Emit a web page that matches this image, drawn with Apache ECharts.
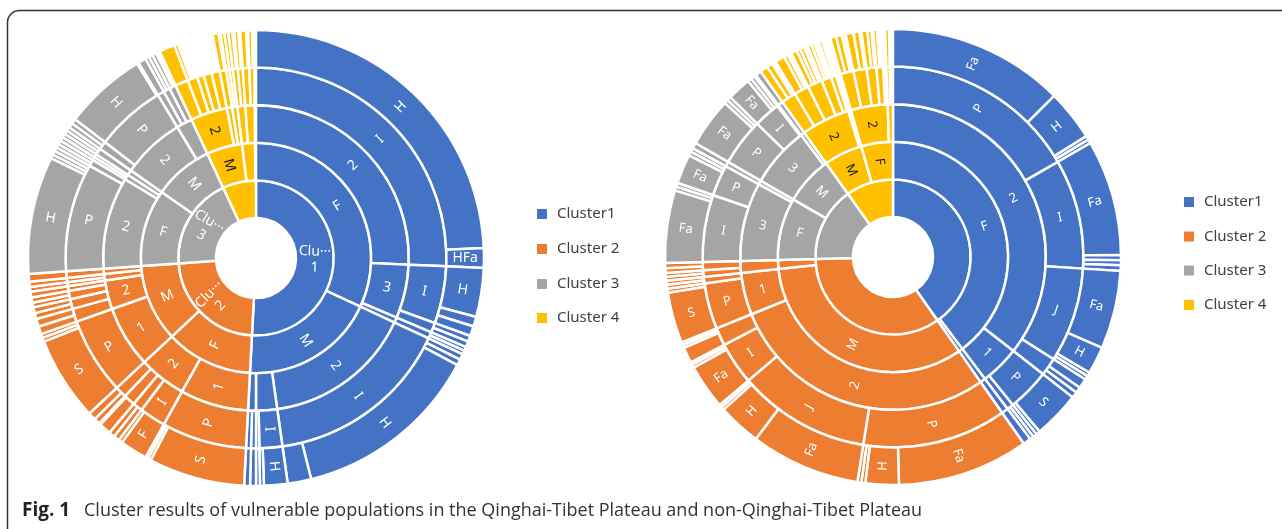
<!DOCTYPE html>
<html>
<head>
<meta charset="utf-8">
<script src="https://cdn.jsdelivr.net/npm/echarts@6/dist/echarts.min.js"></script>
<style>
html,body{margin:0;padding:0;background:#fff;}
#c{width:1282px;height:529px;}
</style>
</head>
<body>
<div id="c"></div>
<script>
// ---- data (values in share units; a parent larger than its children leaves an empty gap) ----
// segment names starting with "_" are drawn without a label
const clusterNames = ['Cluster 1', 'Cluster 2', 'Cluster 3', 'Cluster 4'];
const clusterColors = ['#4472C4', '#ED7D31', '#A5A5A5', '#FFC000'];
const legendLabels = ['Cluster1', 'Cluster 2', 'Cluster 3', 'Cluster 4'];

// Left chart (Qinghai-Tibet Plateau)
const leftClusterValues = [183, 83, 69, 25];
const leftC1 = [
  ['F',115],['F/2',92.5],['F/2/I',92.5],['F/2/I/H',87.5],['F/2/I/HFa',5],
  ['F/3',20.5],['F/3/I',17.5],['F/3/I/H',12.5],['F/3/I/_1',2.5],['F/3/I/_2',2.5],
  ['F/3/_1',3],['F/3/_1/_1',1.5],['F/3/_1/_2',1.5],
  ['F/_1',2],['F/_1/_1',2],['F/_1/_1/_1',1],['F/_1/_1/_2',1],
  ['M',68],['M/2',57],['M/2/I',57],['M/2/I/_1',1.5],['M/2/I/_2',1.5],['M/2/I/H',48],['M/2/I/_3',6],
  ['M/_1',8],['M/_1/I',7],['M/_1/I/H',6],['M/_1/I/_1',1],['M/_1/_1',1],['M/_1/_1/_1',1],
  ['M/_2',3],['M/_2/_1',1.5],['M/_2/_1/_1',1.5],['M/_2/_2',1.5],['M/_2/_2/_1',1.5]
];
const leftC2 = [
  ['F',44],['F/1',26],['F/1/P',26],['F/1/P/S',24.5],['F/1/P/_1',0.8],['F/1/P/_2',0.7],
  ['F/2',18],['F/2/I',8],['F/2/I/F',7],['F/2/I/_1',1],
  ['F/2/_1',3],['F/2/_1/_1',1.5],['F/2/_1/_2',1.5],
  ['F/2/_2',3.5],['F/2/_2/_1',3],
  ['F/2/_3',3.5],['F/2/_3/_1',1.5],['F/2/_3/_2',2],
  ['M',39],['M/1',23.5],['M/1/P',23.5],['M/1/P/S',21.5],['M/1/P/_1',1],['M/1/P/_2',1],
  ['M/2',11],['M/2/_1',4],['M/2/_1/_1',2],['M/2/_1/_2',2],
  ['M/2/_2',3],['M/2/_2/_1',1.5],['M/2/_2/_2',1.5],
  ['M/2/_3',2.5],['M/2/_3/_1',1.2],['M/2/_3/_2',1.3],
  ['M/2/_4',1.5],['M/2/_4/_1',1.5],
  ['M/_1',2.5],['M/_1/_1',1.2],['M/_1/_1/_1',1.2],['M/_1/_2',1.3],['M/_1/_2/_1',1.3],
  ['M/_2',2],['M/_2/_1',2],['M/_2/_1/_1',2]
];
const leftC3 = [
  ['F',39],['F/2',35],['F/2/P',33],['F/2/P/H',30],['F/2/P/_1',1],['F/2/P/_2',1],['F/2/P/_3',1],
  ['F/2/_1',2],['F/2/_1/_1',1],['F/2/_1/_2',1],
  ['F/_1',2],['F/_1/_1',1],['F/_1/_1/_1',1],['F/_1/_2',1],['F/_1/_2/_1',1],
  ['F/_2',2],['F/_2/_1',2],['F/_2/_1/_1',1],['F/_2/_1/_2',1],
  ['M',30],['M/2',24],['M/2/_1',2.5],['M/2/_1/_1',1.2],['M/2/_1/_2',1.3],
  ['M/2/P',21.5],['M/2/P/H',21],
  ['M/_1',6],['M/_1/_1',2],['M/_1/_1/_1',2],['M/_1/_2',2],['M/_1/_2/_1',1],['M/_1/_2/_2',1],
  ['M/_1/_3',2],['M/_1/_3/_1',1]
];
const leftC4 = [
  ['M',18],['M/2',14],
  ['M/2/_1',4],['M/2/_1/_1',4],
  ['M/2/_2',3],['M/2/_2/_1',1],['M/2/_2/_2',0.5],['M/2/_2/_3',0.5],
  ['M/2/_3',2],
  ['M/2/_4',2.5],['M/2/_4/_1',0.5],
  ['M/2/_5',2.5],
  ['M/_1',2],['M/_1/_1',2],['M/_1/_1/_1',1.5],
  ['M/_2',2],['M/_2/_1',1],['M/_2/_1/_1',1],['M/_2/_2',1],['M/_2/_2/_1',1],
  ['_F',6.5],['_F/_1',3],['_F/_1/_1',1.5],['_F/_1/_1/_1',1],['_F/_1/_2',1.5],['_F/_1/_2/_1',1],
  ['_F/_2',3.5],['_F/_2/_1',2],['_F/_2/_1/_1',1.5],['_F/_2/_2',1.5],['_F/_2/_2/_1',1]
];

// Right chart (non-Qinghai-Tibet Plateau)
const rightClusterValues = [145, 123.5, 56, 35.5];
const rightC1 = [
  ['F',143],['F/2',128],
  ['F/2/P',60],['F/2/P/Fa',45],['F/2/P/H',13],['F/2/P/_1',1],['F/2/P/_2',1],
  ['F/2/I',33.5],['F/2/I/Fa',29.5],['F/2/I/_1',1.3],['F/2/I/_2',1.3],['F/2/I/_3',1.4],
  ['F/2/J',29],['F/2/J/Fa',20],['F/2/J/H',7],['F/2/J/_1',1],['F/2/J/_2',1],
  ['F/2/_1',5.5],['F/2/_1/_1',2.5],['F/2/_1/_2',1.5],['F/2/_1/_3',1.5],
  ['F/1',15],['F/1/P',13],['F/1/P/S',12],['F/1/P/_1',1],
  ['F/1/_1',2],['F/1/_1/_1',1],['F/1/_1/_2',1],
  ['_M',2],['_M/_1',2],['_M/_1/_1',2],['_M/_1/_1/_1',2]
];
const rightC2 = [
  ['M',119],['M/2',103],
  ['M/2/P',44],['M/2/P/Fa',33.5],['M/2/P/H',8.5],['M/2/P/_1',1],['M/2/P/_2',1],
  ['M/2/J',40.5],['M/2/J/Fa',28],['M/2/J/H',11],['M/2/J/_1',0.8],['M/2/J/_2',0.7],
  ['M/2/I',13],['M/2/I/Fa',11.5],['M/2/I/_1',0.8],['M/2/I/_2',0.7],
  ['M/2/_1',5.5],['M/2/_1/_1',4],['M/2/_1/_2',0.8],['M/2/_1/_3',0.7],
  ['M/1',16],['M/1/P',14],['M/1/P/S',13],['M/1/P/_1',1],
  ['M/1/_1',2],['M/1/_1/_1',1],['M/1/_1/_2',1],
  ['_F',4.5],['_F/_1',4.5],['_F/_1/_1',2],['_F/_1/_1/_1',1],['_F/_1/_1/_2',1],
  ['_F/_1/_2',2.5],['_F/_1/_2/_1',1.2],['_F/_1/_2/_2',1.3]
];
const rightC3 = [
  ['F',31.5],['F/3',30],
  ['F/3/I',20.5],['F/3/I/Fa',18.5],['F/3/I/_1',1],['F/3/I/_2',1],
  ['F/3/P',9.5],['F/3/P/Fa',7.5],['F/3/P/_1',1],['F/3/P/_2',1],
  ['F/_1',1.5],['F/_1/_1',1.5],['F/_1/_1/_1',1.5],
  ['M',24.5],['M/3',23],
  ['M/3/P',14.5],['M/3/P/Fa',12.5],['M/3/P/_1',1],['M/3/P/_2',1],
  ['M/3/I',8],['M/3/I/Fa',6],['M/3/I/_1',1],['M/3/I/_2',1],
  ['M/_1',1.5],['M/_1/_1',1.5],['M/_1/_1/_1',1.5]
];
const rightC4 = [
  ['M',19.5],['M/2',18.5],
  ['M/2/_1',4.5],['M/2/_1/_1',2],['M/2/_1/_2',1.5],
  ['M/2/_2',4.5],['M/2/_2/_1',2.5],['M/2/_2/_2',1],
  ['M/2/_3',4.5],['M/2/_3/_1',1.5],['M/2/_3/_2',1],['M/2/_3/_3',1],
  ['M/2/_4',3],['M/2/_4/_1',1],['M/2/_4/_2',0.8],
  ['M/2/_5',1.5],['M/2/_5/_1',0.8],
  ['M/_1',1],
  ['F',16],['F/2',14],
  ['F/2/_1',4],['F/2/_1/_1',1.5],['F/2/_1/_2',1.5],['F/2/_1/_3',0.7],
  ['F/2/_2',4],['F/2/_2/_1',2],['F/2/_2/_2',1.5],
  ['F/2/_3',3],['F/2/_3/_1',1.5],['F/2/_3/_2',1],
  ['F/2/_4',2],['F/2/_4/_1',1],['F/2/_4/_2',0.6],
  ['F/_1',2],['F/_1/_1',1],['F/_1/_1/_1',1]
];

// ---- build trees ----
function buildTree(values, lists, hideClusterLabel) {
  return clusterNames.map(function (cn, i) {
    const labelColor = i === 3 ? '#1a1a1a' : '#ffffff';
    const col = clusterColors[i];
    const root = { key: cn, name: cn, value: values[i], itemStyle: { color: col },
                   label: { color: labelColor, show: !hideClusterLabel[i] }, children: [] };
    lists[i].forEach(function (row) {
      const segs = row[0].split('/');
      let node = root;
      segs.forEach(function (s, k) {
        let child = node.children.find(function (c) { return c.key === s; });
        if (!child) {
          const blank = s.charAt(0) === '_';
          child = { key: s, name: blank ? '' : s, itemStyle: { color: col },
                    label: { color: labelColor, show: !blank }, children: [] };
          node.children.push(child);
        }
        if (k === segs.length - 1) child.value = row[1];
        node = child;
      });
    });
    (function clean(n) {
      delete n.key;
      if (!n.children.length) delete n.children; else n.children.forEach(clean);
    })(root);
    return root;
  });
}

const leftData = buildTree(leftClusterValues, [leftC1, leftC2, leftC3, leftC4], [false, false, false, true]);
const rightData = buildTree(rightClusterValues, [rightC1, rightC2, rightC3, rightC4], [true, true, true, true]);

function fmt(p) {
  const n = p.name || '';
  if (n.indexOf('Cluster') === 0) return 'Clu\u00B7\u00B7\u00B7\n' + n.replace(/\D/g, '');
  return n;
}

const FONT = '"Noto Sans", "Open Sans", sans-serif';
function series(center, data, fs) {
  return {
    type: 'sunburst',
    center: center,
    radius: [40, 228],
    sort: null,
    nodeClick: false,
    startAngle: 90,
    clockwise: true,
    itemStyle: { borderColor: '#ffffff', borderWidth: 2.5 },
    label: { rotate: 'radial', fontSize: fs, fontFamily: FONT, color: '#fff', formatter: fmt, lineHeight: fs + 2 },
    emphasis: { disabled: true },
    data: data
  };
}

const legendGraphics = [];
function addLegend(x, ys) {
  legendLabels.forEach(function (t, i) {
    legendGraphics.push({ type: 'rect', shape: { x: x, y: ys[i] - 5, width: 10, height: 10 }, style: { fill: clusterColors[i] } });
    legendGraphics.push({ type: 'text', x: x + 20, y: ys[i], style: { text: t, font: '15px ' + FONT, fill: '#404040', verticalAlign: 'middle' } });
  });
}
addLegend(537, [214, 249, 284, 318]);
addLegend(1184, [202, 236.5, 270.5, 305]);

const chart = echarts.init(document.getElementById('c'), null, { renderer: 'canvas' });
chart.setOption({
  animation: false,
  series: [
    series([256, 258], leftData, 14),
    series([893, 257], rightData, 13)
  ],
  graphic: [
    { type: 'rect', z: -1, shape: { x: 7.5, y: 10.5, width: 1320, height: 580, r: 12 }, style: { fill: 'none', stroke: '#333', lineWidth: 1.5 } },
    { type: 'text', x: 22, y: 511, style: { text: 'Fig. 1', font: 'bold 19px "Open Sans", sans-serif', fill: '#222', verticalAlign: 'middle' } },
    { type: 'text', x: 84, y: 511, style: { text: 'Cluster results of vulnerable populations in the Qinghai-Tibet Plateau and non-Qinghai-Tibet Plateau', font: '18px "Open Sans", sans-serif', fill: '#333', verticalAlign: 'middle' } }
  ].concat(legendGraphics)
});
</script>
</body>
</html>
